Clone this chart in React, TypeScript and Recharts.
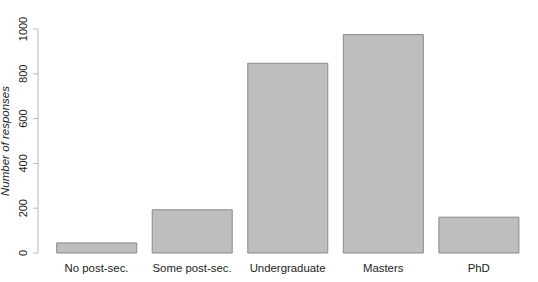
import { BarChart, Bar, XAxis, YAxis, ReferenceLine } from 'recharts';

const categories = ['No post-sec.', 'Some post-sec.', 'Undergraduate', 'Masters', 'PhD'];
const responses = [45, 193, 847, 975, 160];
const yTicks = [0, 200, 400, 600, 800, 1000];
const gridValues = [0, 100, 200, 300, 400, 500, 600, 700, 800, 900, 1000];
// grid lines stop short of the last bar, in bar-width units from the axis
const gridEnd = 5.2;

const data = categories.map((name, i) => ({ name, count: responses[i] }));

const FONT = '"Liberation Sans", Arial, sans-serif';

function RotatedTick(props: any) {
  const { x, y, payload } = props;
  return (
    <g transform={`translate(${x},${y}) rotate(-90)`}>
      <text textAnchor="middle" fontSize={11} fill="#222" fontFamily={FONT}>
        {payload.value}
      </text>
    </g>
  );
}

function AxisTitle(props: any) {
  const { viewBox } = props;
  const cx = viewBox.x + 9;
  const cy = viewBox.y + viewBox.height / 2;
  return (
    <text
      transform={`translate(${cx},${cy}) rotate(-90)`}
      textAnchor="middle"
      fontSize={11.5}
      fontStyle="italic"
      fill="#222"
      fontFamily={FONT}
    >
      Number of responses
    </text>
  );
}

export default function App() {
  return (
    <div style={{ position: 'absolute', left: 0, top: 0, background: '#fff' }}>
      <BarChart
        width={538}
        height={282}
        data={data}
        margin={{ top: 29, right: 11.5, bottom: 0, left: 0 }}
        barCategoryGap="8.3%"
        style={{ fontFamily: FONT }}
      >
        <XAxis
          dataKey="name"
          height={29}
          axisLine={false}
          tickLine={false}
          padding={{ left: 10.75, right: 0 }}
          tick={{ fontSize: 11.4, fill: '#222' }}
          tickMargin={5}
          interval={0}
        />
        <XAxis xAxisId="grid" type="number" domain={[0, 6.1]} hide allowDataOverflow />
        <YAxis
          width={38}
          domain={[0, 1000]}
          ticks={yTicks}
          axisLine={{ stroke: '#b8b8b8' }}
          tickLine={{ stroke: '#b8b8b8' }}
          tickSize={5}
          tickMargin={6}
          tick={<RotatedTick />}
          label={<AxisTitle />}
        />
        {gridValues.map((v) => (
          <ReferenceLine
            key={v}
            xAxisId="grid"
            segment={[{ x: 0, y: v }, { x: gridEnd, y: v }]}
            stroke="#f0f0f0"
            strokeWidth={1}
          />
        ))}
        <Bar
          dataKey="count"
          fill="#bebebe"
          stroke="#8a8a8a"
          strokeWidth={1}
          isAnimationActive={false}
        />
      </BarChart>
    </div>
  );
}
